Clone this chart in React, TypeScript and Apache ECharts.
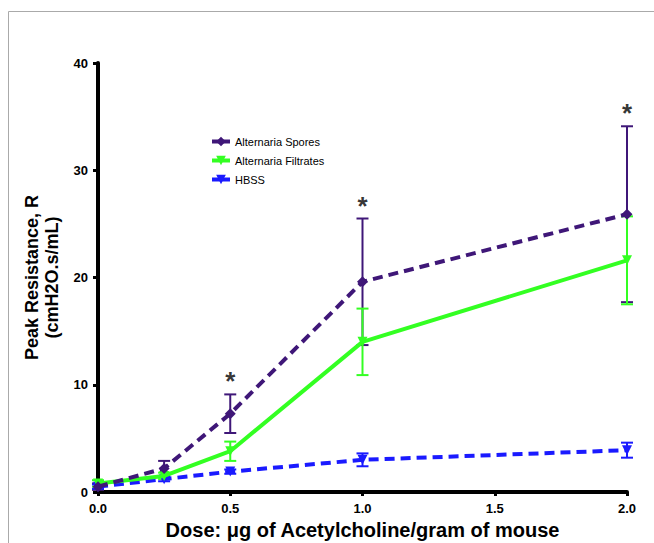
import React, { useEffect, useRef } from "react";
import * as echarts from "echarts";

const doses = [0, 0.25, 0.5, 1.0, 2.0];
const sporesMean = [0.5, 2.2, 7.3, 19.6, 25.9];
const sporesErr = [0.3, 0.7, 1.8, 5.9, 8.2];
const filtratesMean = [0.8, 1.5, 3.8, 14.0, 21.6];
const filtratesErr = [0.3, 0.3, 0.9, 3.1, 4.1];
const hbssMean = [0.5, 1.2, 1.9, 3.0, 3.9];
const hbssErr = [0.2, 0.2, 0.2, 0.6, 0.7];
const starDoses = [0.5, 1.0, 2.0];

const PURPLE = "#3f1778";
const GREEN = "#33ff22";
const BLUE = "#1a1aff";
const FONT = "Arial, 'Liberation Sans', sans-serif";

function errSeries(name: string, means: number[], errs: number[], color: string) {
  return {
    type: "custom",
    name: name + "-err",
    silent: true,
    z: 3,
    data: doses.map((d, i) => [d, means[i] - errs[i], means[i] + errs[i]]),
    renderItem: (params: any, api: any) => {
      const x = api.value(0);
      const lo = api.coord([x, api.value(1)]);
      const hi = api.coord([x, api.value(2)]);
      const w = 6;
      const style = { stroke: color, lineWidth: 2 };
      return {
        type: "group",
        children: [
          { type: "line", shape: { x1: lo[0], y1: lo[1], x2: hi[0], y2: hi[1] }, style },
          { type: "line", shape: { x1: lo[0] - w, y1: lo[1], x2: lo[0] + w, y2: lo[1] }, style },
          { type: "line", shape: { x1: hi[0] - w, y1: hi[1], x2: hi[0] + w, y2: hi[1] }, style },
        ],
      };
    },
  };
}

export default function App() {
  const ref = useRef<HTMLDivElement>(null);
  useEffect(() => {
    if (!ref.current) return;
    const chart = echarts.init(ref.current, null, { renderer: "svg" });
    const starData = starDoses.map((d) => {
      const i = doses.indexOf(d);
      return [d, sporesMean[i] + sporesErr[i]];
    });
    chart.setOption({
      animation: false,
      backgroundColor: "#fff",
      textStyle: { fontFamily: FONT },
      grid: { left: 98, right: 27, top: 63, bottom: 51, containLabel: false, outerBoundsMode: "none" },
      legend: {
        left: 205,
        top: 131,
        orient: "vertical",
        itemGap: 8,
        itemWidth: 18,
        itemHeight: 12,
        textStyle: { fontSize: 11, fontFamily: FONT, color: "#000" },
        lineStyle: { width: 4, type: "solid" },
        data: ["Alternaria Spores", "Alternaria Filtrates", "HBSS"],
      },
      graphic: [
        {
          type: "rect",
          shape: { x: 8.5, y: 11.5, width: 700, height: 600 },
          style: { fill: "none", stroke: "#aaaaaa", lineWidth: 1 },
          silent: true,
        },
      ],
      xAxis: {
        type: "value",
        min: 0,
        max: 2,
        interval: 0.5,
        name: "Dose: \u03bcg of Acetylcholine/gram of mouse",
        nameLocation: "middle",
        nameGap: 28,
        nameTextStyle: { fontSize: 20, fontWeight: "bold", color: "#000", fontFamily: FONT },
        axisLine: { lineStyle: { color: "#000", width: 4 } },
        axisTick: { show: true, length: 4, lineStyle: { color: "#000", width: 3 } },
        axisLabel: {
          fontSize: 13,
          fontWeight: "bold",
          color: "#000",
          margin: 10,
          formatter: (v: number) => v.toFixed(1),
        },
        splitLine: { show: false },
      },
      yAxis: {
        type: "value",
        min: 0,
        max: 40,
        interval: 10,
        name: "Peak Resistance, R\n(cmH2O.s/mL)",
        nameLocation: "middle",
        nameGap: 36,
        nameTextStyle: { fontSize: 18, fontWeight: "bold", color: "#000", fontFamily: FONT, lineHeight: 20 },
        axisLine: { show: true, lineStyle: { color: "#000", width: 4 } },
        axisTick: { show: true, length: 5, lineStyle: { color: "#000", width: 3 } },
        axisLabel: { fontSize: 13, fontWeight: "bold", color: "#000", margin: 10 },
        splitLine: { show: false },
      },
      series: [
        errSeries("spores", sporesMean, sporesErr, PURPLE),
        errSeries("filtrates", filtratesMean, filtratesErr, GREEN),
        errSeries("hbss", hbssMean, hbssErr, BLUE),
        {
          type: "line",
          name: "HBSS",
          z: 4,
          data: doses.map((d, i) => [d, hbssMean[i]]),
          symbol: "triangle",
          symbolRotate: 180,
          symbolSize: 10,
          itemStyle: { color: BLUE },
          lineStyle: { color: BLUE, width: 4, type: [10, 6] },
        },
        {
          type: "line",
          name: "Alternaria Filtrates",
          z: 5,
          data: doses.map((d, i) => [d, filtratesMean[i]]),
          symbol: "triangle",
          symbolRotate: 180,
          symbolSize: 10,
          itemStyle: { color: GREEN },
          lineStyle: { color: GREEN, width: 4, type: "solid" },
        },
        {
          type: "line",
          name: "Alternaria Spores",
          z: 6,
          data: doses.map((d, i) => [d, sporesMean[i]]),
          symbol: "diamond",
          symbolSize: 11,
          itemStyle: { color: PURPLE },
          lineStyle: { color: PURPLE, width: 4, type: [10, 6] },
        },
        {
          type: "scatter",
          name: "sig",
          silent: true,
          symbolSize: 0,
          data: starData,
          label: {
            show: true,
            position: "top",
            distance: 0,
            formatter: "*",
            fontSize: 26,
            fontWeight: "bold",
            color: "#000",
            fontFamily: FONT,
          },
        },
      ],
    });
    return () => chart.dispose();
  }, []);
  return (
    <div
      ref={ref}
      style={{ position: "absolute", left: 0, top: 0, width: 654, height: 543 }}
    />
  );
}
